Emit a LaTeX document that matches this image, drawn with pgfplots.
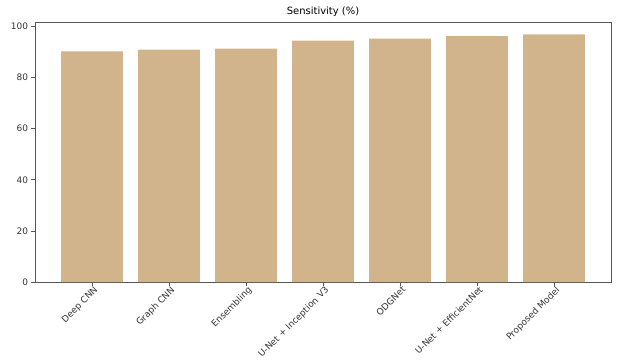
\documentclass[border=0pt]{standalone}
\usepackage{pgfplots}
\pgfplotsset{compat=1.18}
\usepackage{fontspec}
\setmainfont{DejaVu Sans}
\definecolor{tanbar}{HTML}{D2B48C}
\definecolor{framegray}{HTML}{555555}
\definecolor{labelgray}{HTML}{333333}
\begin{document}
\begin{tikzpicture}
\begin{axis}[
  scale only axis,
  width=576bp, height=260bp,
  xmin=-0.74, xmax=6.74,
  ymin=0, ymax=101.7,
  ytick={0,20,40,60,80,100},
  xtick={0,1,2,3,4,5,6},
  xticklabels={Deep CNN,Graph CNN,Ensembling,U-Net + Inception V3,ODGNet,U-Net + EfficientNet,Proposed Model},
  x tick label style={rotate=45, anchor=north east, font=\fontsize{9}{10}\selectfont, text=labelgray, inner sep=1pt, xshift=2pt},
  y tick label style={font=\fontsize{9}{10}\selectfont, text=labelgray},
  /pgf/number format/assume math mode=true,
  tick align=outside,
  xtick pos=bottom, ytick pos=left,
  major tick length=3.5bp,
  tick style={framegray, line width=0.6pt},
  axis line style={framegray, line width=0.6pt},
  title={Sensitivity (\%)},
  title style={font=\fontsize{10}{12}\selectfont, yshift=-4bp},
  ybar, bar width=0.8, bar shift=0pt,
]
\addplot[fill=tanbar, draw=none] coordinates {
  (0,90.2) (1,90.9) (2,91.3) (3,94.4) (4,95.2) (5,96.2) (6,96.9)
};
\end{axis}
\useasboundingbox ([xshift=-35bp,yshift=-79bp]current axis.south west) rectangle ([xshift=6bp,yshift=22bp]current axis.north east);
\end{tikzpicture}
\end{document}
